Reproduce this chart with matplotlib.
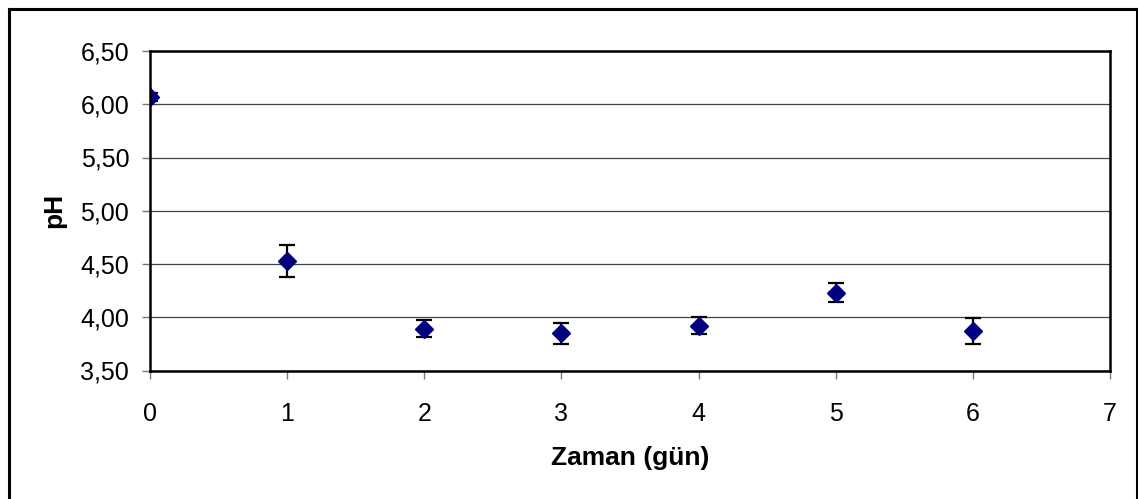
import matplotlib
matplotlib.use("Agg")
import matplotlib.pyplot as plt
from matplotlib.lines import Line2D
from matplotlib.ticker import FuncFormatter

plt.rcParams["font.family"] = ["Liberation Sans", "DejaVu Sans"]

# pH over storage time, mean and deviation
days = [0, 1, 2, 3, 4, 5, 6]
ph_mean = [6.07, 4.53, 3.89, 3.85, 3.92, 4.23, 3.87]
ph_err = [0.04, 0.15, 0.08, 0.10, 0.08, 0.09, 0.12]

x_ticks = [0, 1, 2, 3, 4, 5, 6, 7]
y_ticks = [3.50, 4.00, 4.50, 5.00, 5.50, 6.00, 6.50]

W, H = 1138, 499
fig = plt.figure(figsize=(W / 100, H / 100), dpi=100)
ax = fig.add_axes([150 / W, (H - 370.5) / H, 960 / W, 319.5 / H])

ax.errorbar(
    days, ph_mean, yerr=ph_err,
    fmt="D", color="#000080", mec="#000080", markersize=9.5,
    ecolor="black", elinewidth=1.6, capsize=6, capthick=1.6, zorder=3,
)

ax.set_xlim(0, 7)
ax.set_ylim(3.5, 6.5)
ax.set_xticks(x_ticks)
ax.set_yticks(y_ticks)
ax.yaxis.set_major_formatter(FuncFormatter(lambda v, _: f"{v:.2f}".replace(".", ",")))

ax.grid(axis="y", color="#444444", linewidth=0.9)
ax.set_axisbelow(True)
for side in ["left", "right", "top", "bottom"]:
    ax.spines[side].set_linewidth(1.8)
    ax.spines[side].set_color("black")
    ax.spines[side].set_zorder(4)

ax.tick_params(axis="y", length=6, width=1, color="#777777", pad=9, labelsize=18)
ax.tick_params(axis="x", length=6, width=1, color="#777777", pad=17, labelsize=18)

ax.set_xlabel("Zaman (gün)", fontsize=19, fontweight="bold", labelpad=14)
ax.set_ylabel("pH", fontsize=19, fontweight="bold", labelpad=10)

# outer chart frame
frame = dict(color="black", linewidth=2.2, transform=fig.transFigure)
fig.add_artist(Line2D([8.5 / W, 8.5 / W], [0, 1 - 9 / H], **frame))
fig.add_artist(Line2D([8.5 / W, 1137 / W], [1 - 9 / H, 1 - 9 / H], **frame))
fig.add_artist(Line2D([1137 / W, 1137 / W], [0, 1 - 9 / H], **frame))

fig.savefig("out.png", dpi=100)
plt.close(fig)
